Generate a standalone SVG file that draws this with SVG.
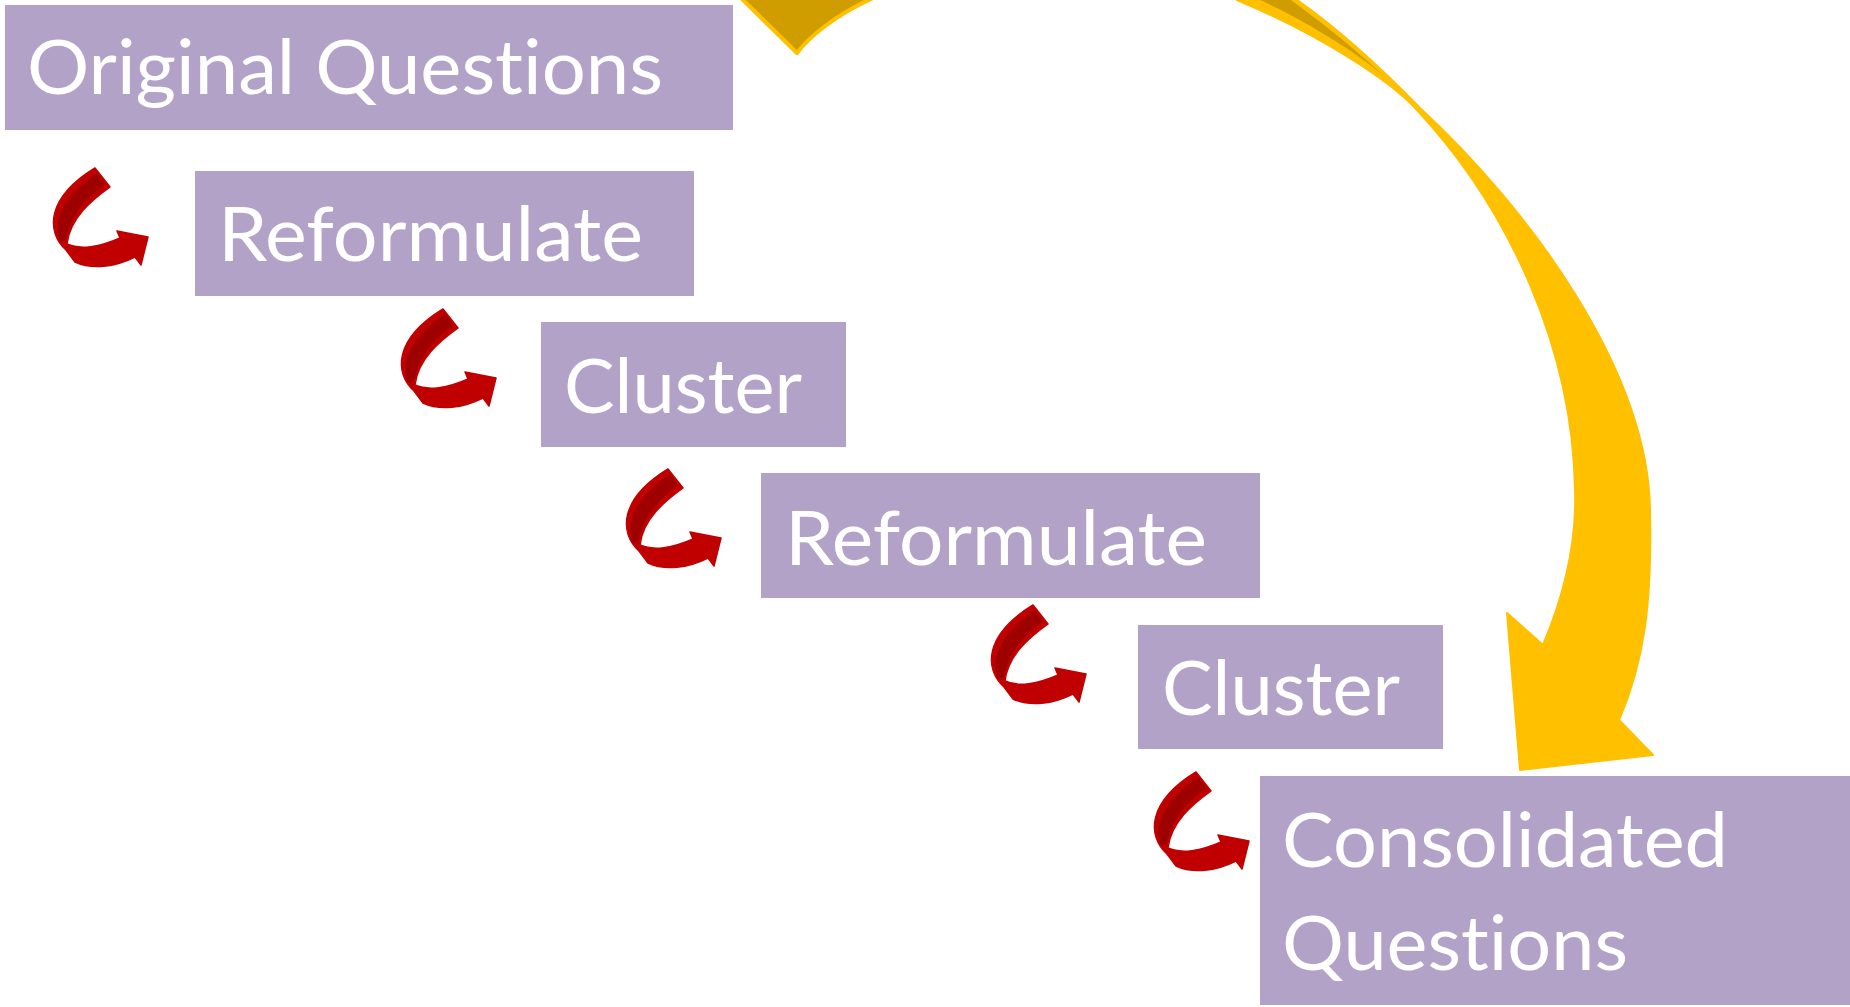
<svg xmlns="http://www.w3.org/2000/svg" xmlns:xlink="http://www.w3.org/1999/xlink" width="1850" height="1007" viewBox="0 0 1850 1007">
<style>
.box{fill:#B3A2C7;}
.lbl{font-family:Lato,"Open Sans","Liberation Sans",sans-serif;font-size:75px;fill:#ffffff;font-variant-ligatures:none;font-feature-settings:"liga" 0,"clig" 0;}
.ydark{fill:#CF9D00;stroke:#FFC000;stroke-width:4;stroke-linejoin:round;}
.ydark2{fill:#CF9D00;}
.ybody{fill:#FFC000;stroke:#FFC000;stroke-width:2;stroke-linejoin:round;}
.rmain{fill:#C00000;stroke:#C00000;stroke-width:1.5;stroke-linejoin:round;}
.rface{fill:#9E0000;}
</style>
<defs>
<g id="redArrow">
<path class="rmain" d="M95,168 L110,187 C92,200 70,218 67,244 C80,250 100,247 120,238 L117,231 L148,237 L141,265 L135,257 C115,267 92,270 75,262 L66,250 C46,232 46,198 95,168 Z"/>
<path class="rface" d="M97,173 L105,184 C89,196 71,212 66,240 L60,242 C54,225 56,202 97,173 Z"/>
</g>
</defs>
<rect width="1850" height="1007" fill="#ffffff"/>
<g id="connectors">
<path class="ydark" d="M741,-2 L797,53 C808,38 835,15 873,-2 Z"/>
<path class="ybody" d="M1237,0 L1297,0 C1340,30 1385,72 1420,108 C1530,210 1648,370 1650,510 C1652,600 1645,660 1619,720 L1653,755 L1520,770 L1507,613 L1543,645 C1562,600 1577,545 1575,490 C1573,350 1510,210 1417,110 C1390,80 1320,35 1237,0 Z"/>
<path class="ydark2" d="M1260,0 L1291,0 C1318,20 1345,40 1393,84 C1370,62 1320,28 1260,0 Z"/>
<use xlink:href="#redArrow" transform="translate(0,0)"/>
<use xlink:href="#redArrow" transform="translate(348,141)"/>
<use xlink:href="#redArrow" transform="translate(573,301)"/>
<use xlink:href="#redArrow" transform="translate(938,437)"/>
<use xlink:href="#redArrow" transform="translate(1101,604)"/>
</g>
<g id="node-original">
<rect class="box" x="5" y="5" width="728" height="125"/>
<text class="lbl" x="27" y="94" textLength="636" lengthAdjust="spacingAndGlyphs">Original Questions</text>
</g>
<g id="node-reformulate1">
<rect class="box" x="195" y="171" width="499" height="125"/>
<text class="lbl" x="218" y="261" textLength="425" lengthAdjust="spacingAndGlyphs">Reformulate</text>
</g>
<g id="node-cluster1">
<rect class="box" x="541" y="322" width="305" height="125"/>
<text class="lbl" x="564" y="413" textLength="238" lengthAdjust="spacingAndGlyphs">Cluster</text>
</g>
<g id="node-reformulate2">
<rect class="box" x="761" y="473" width="499" height="125"/>
<text class="lbl" x="785" y="565" textLength="422" lengthAdjust="spacingAndGlyphs">Reformulate</text>
</g>
<g id="node-cluster2">
<rect class="box" x="1138" y="625" width="305" height="124"/>
<text class="lbl" x="1162" y="715" textLength="238" lengthAdjust="spacingAndGlyphs">Cluster</text>
</g>
<g id="node-consolidated">
<rect class="box" x="1260" y="776" width="590" height="229"/>
<text class="lbl" x="1282" y="867" textLength="446" lengthAdjust="spacingAndGlyphs">Consolidated</text>
<text class="lbl" x="1282" y="970" textLength="346" lengthAdjust="spacingAndGlyphs">Questions</text>
</g>
</svg>
